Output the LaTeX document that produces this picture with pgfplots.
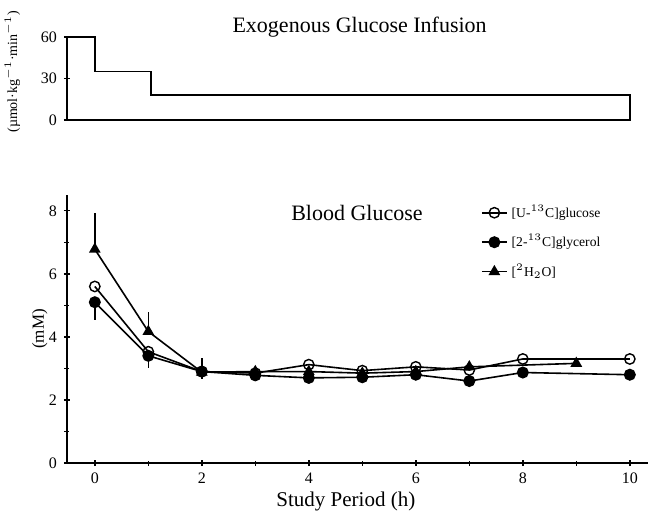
\documentclass[border=0pt]{standalone}
\usepackage{pgfplots}
\pgfplotsset{compat=1.18}
\usepackage{fontspec}
\setmainfont{Liberation Serif}

\pgfplotsset{
  base/.style={
    scale only axis, width=290.5pt,
    xmin=-0.52, xmax=10.34,
    tick style={line width=0.7pt, black},
    tick align=outside,
    major tick length=3pt, minor tick length=2.5pt,
    /pgf/number format/assume math mode=true,
    tick label style={font=\fontsize{8}{9}\selectfont},
    clip=false,
  },
}

\begin{document}
\begin{tikzpicture}
\path[use as bounding box] (-33.5pt,-23.5pt) rectangle (291pt,231.5pt);

% lower panel: blood glucose
\begin{axis}[base,
  at={(0,0)}, anchor=south west,
  height=134pt,
  ymin=0, ymax=8.5,
  axis lines=left,
  axis line style={-, line width=0.8pt},
  xtick={0,2,...,10}, minor xtick={1,3,...,9},
  ytick={0,2,...,8}, minor ytick={1,3,5,7},
  xlabel={Study Period (h)},
  xlabel style={font=\fontsize{10.5}{11}\selectfont, at={(axis description cs:0.48,0)}, anchor=north, yshift=-11pt},
  ylabel={(mM)},
  ylabel style={font=\fontsize{8.5}{9}\selectfont, at={(axis description cs:-0.047,0.5)}, anchor=center},
  legend style={draw=none, fill=none, at={(axis cs:7.1,8.45)}, anchor=north west,
    font=\fontsize{6.8}{8}\selectfont, row sep=3pt, legend cell align=left},
  legend image code/.code={\draw[mark repeat=2,mark phase=2,#1] plot coordinates {(0cm,0cm)(0.22cm,0cm)(0.44cm,0cm)};},
  every axis plot/.append style={line width=0.8pt, black},
  error bars/error bar style={line width=0.7pt, black},
]
\addplot[mark=o, mark options={solid, fill=white, line width=0.7pt}, mark size=2.6pt]
  coordinates {(0,5.6)(1,3.53)(2,2.9)(3,2.85)(4,3.12)(5,2.93)(6,3.05)(7,2.95)(8,3.3)(10,3.3)};
\addlegendentry{[U-$^{13}$C]glucose}

\addplot[mark=*, mark size=2.6pt,
  error bars/.cd, y dir=both, y explicit, error mark=none]
  table[x=x, y=y, y error plus=ep, y error minus=em] {
  x   y     ep  em
  0   5.1   0   0.55
  1   3.4   0   0.40
  2   2.9   0   0.25
  3   2.78  0   0
  4   2.7   0   0
  5   2.72  0   0
  6   2.8   0   0
  7   2.6   0   0
  8   2.87  0   0
  10  2.8   0   0
  };
\addlegendentry{[2-$^{13}$C]glycerol}

\addplot[mark=triangle*, mark size=2.6pt,
  error bars/.cd, y dir=both, y explicit, error mark=none]
  table[x=x, y=y, y error plus=ep, y error minus=em] {
  x   y     ep    em
  0   6.78  1.16  0
  1   4.17  0.63  0
  2   2.88  0.45  0
  3   2.9   0     0
  4   2.9   0     0
  5   2.85  0     0
  6   2.9   0     0
  7   3.05  0     0
  9   3.16  0     0
  };
\addlegendentry{[$^{2}$H$_2$O]}

\node[font=\fontsize{11}{12}\selectfont] at (axis cs:4.9,7.94) {Blood Glucose};
\end{axis}

% upper panel: glucose infusion rate
\begin{axis}[base,
  at={(0,171.5pt)}, anchor=south west,
  height=41.5pt,
  ymin=0, ymax=60,
  axis x line=none, axis y line=left,
  axis line style={-, line width=0.8pt},
  ytick={0,30,60},
  ylabel={(µmol·kg$^{-1}$·min$^{-1}$)},
  ylabel style={font=\fontsize{7}{8}\selectfont, at={(axis description cs:-0.094,0.58)}, anchor=center},
]
\addplot[line width=0.8pt, black]
  coordinates {(-0.52,60)(0,60)(0,35)(1.05,35)(1.05,18)(10,18)(10,0)(-0.52,0)};
\node[font=\fontsize{11}{12}\selectfont] at (axis cs:4.95,67) {Exogenous Glucose Infusion};
\end{axis}
\end{tikzpicture}
\end{document}
